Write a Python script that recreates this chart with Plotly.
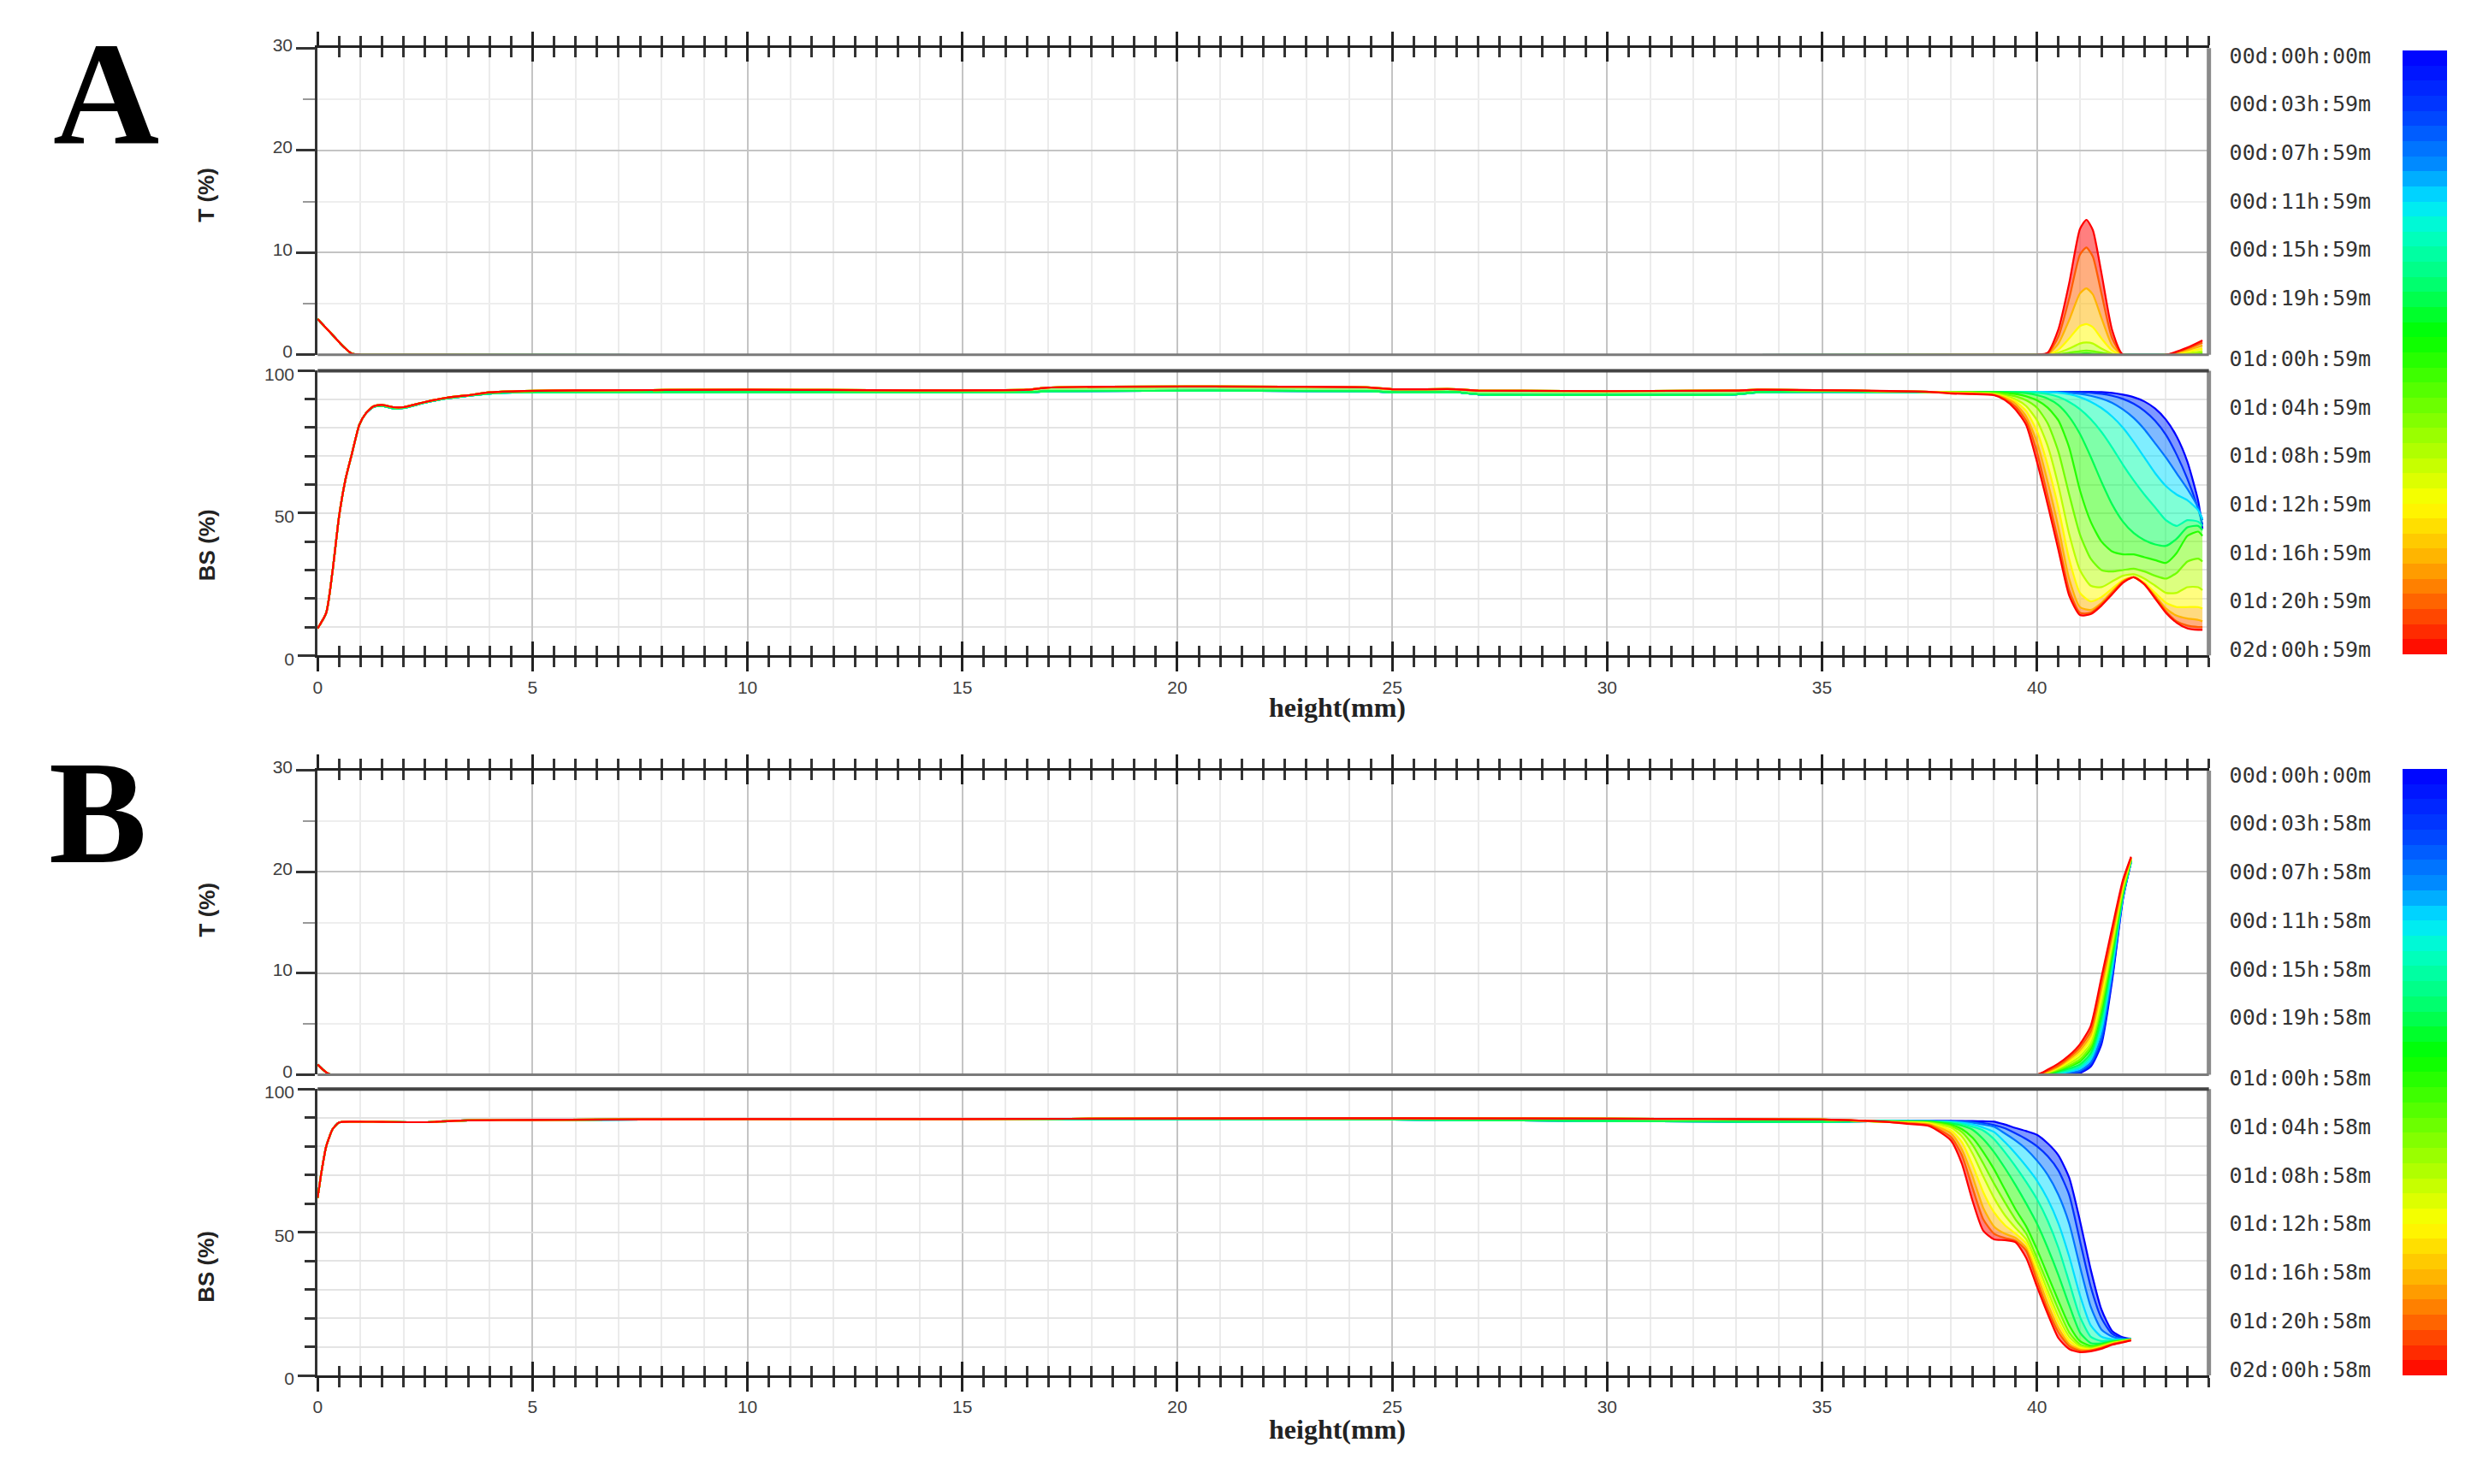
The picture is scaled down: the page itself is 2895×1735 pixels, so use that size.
import plotly.graph_objects as go
from plotly.colors import sample_colorscale

W, H = 2895, 1735

# ---------------------------------------------------------------- data
labels_A = ["00d:00h:00m", "00d:03h:59m", "00d:07h:59m", "00d:11h:59m", "00d:15h:59m",
            "00d:19h:59m", "01d:00h:59m", "01d:04h:59m", "01d:08h:59m", "01d:12h:59m",
            "01d:16h:59m", "01d:20h:59m", "02d:00h:59m"]
hours_A = [0, 3.98, 7.98, 11.98, 15.98, 19.98, 24.98, 28.98, 32.98, 36.98, 40.98, 44.98, 48.98]
labels_B = ["00d:00h:00m", "00d:03h:58m", "00d:07h:58m", "00d:11h:58m", "00d:15h:58m",
            "00d:19h:58m", "01d:00h:58m", "01d:04h:58m", "01d:08h:58m", "01d:12h:58m",
            "01d:16h:58m", "01d:20h:58m", "02d:00h:58m"]
hours_B = [0, 3.97, 7.97, 11.97, 15.97, 19.97, 24.97, 28.97, 32.97, 36.97, 40.97, 44.97, 48.97]

x_ticks = [0, 5, 10, 15, 20, 25, 30, 35, 40]

# ---- Panel A, backscattering
a_bs_base_x = [0, 0.2, 0.35, 0.5, 0.65, 0.8, 0.97, 1.12, 1.3, 1.5, 1.75, 2.0, 2.5, 3.0, 3.5,
               4.0, 4.8, 6.0, 10.0, 16.5, 17.0, 24.5, 25.0, 26.5, 27.0, 33.0, 33.5, 37.5]
a_bs_base_early = [9.5, 15, 30, 49, 62, 71, 81, 85, 87.3, 87.6, 86.8, 86.9, 88.8, 90.3, 91.2,
                   92.0, 92.4, 92.4, 92.4, 92.4, 92.8, 92.8, 92.4, 92.4, 91.7, 91.7, 92.4, 92.5]
a_bs_base_late = [9.5, 15, 30, 49, 62, 71, 81, 85, 87.5, 88.0, 87.2, 87.2, 89.0, 90.5, 91.4,
                  92.4, 92.9, 93.1, 93.3, 93.3, 94.1, 94.1, 93.5, 93.5, 93.0, 93.0, 93.3, 92.6]
a_bs_fan_x = [38.0, 38.5, 39.0, 39.25, 39.5, 39.75, 40.0, 40.25, 40.5, 40.75, 41.0, 41.25,
              41.5, 41.75, 42.0, 42.25, 42.5, 42.75, 43.0, 43.25, 43.5, 43.75, 43.85]
a_bs_fan = [
    [92.6, 92.6, 92.6, 92.6, 92.6, 92.6, 92.6, 92.6, 92.6, 92.6, 92.6, 92.6, 92.5, 92.2, 91.6, 90.7, 89.2, 86.7, 82.8, 76.9, 68.0, 54.3, 44.5],
    [92.6, 92.6, 92.6, 92.6, 92.6, 92.6, 92.6, 92.6, 92.6, 92.6, 92.5, 92.3, 91.9, 91.2, 90.1, 88.4, 85.9, 82.4, 77.5, 70.5, 62.0, 51.5, 46.0],
    [92.6, 92.6, 92.6, 92.6, 92.6, 92.6, 92.6, 92.6, 92.5, 92.3, 91.9, 91.2, 90.2, 88.7, 86.4, 83.4, 79.4, 74.5, 69.5, 64.0, 58.5, 52.0, 47.5],
    [92.6, 92.6, 92.6, 92.6, 92.6, 92.6, 92.6, 92.5, 92.3, 91.7, 90.7, 89.1, 86.9, 83.9, 80.0, 75.0, 69.5, 64.0, 59.5, 56.5, 54.5, 51.0, 48.0],
    [92.6, 92.6, 92.6, 92.6, 92.6, 92.5, 92.3, 91.8, 90.8, 89.0, 86.5, 83.0, 78.5, 73.0, 67.0, 61.5, 56.5, 52.0, 47.5, 45.5, 47.5, 47.0, 45.5],
    [92.6, 92.6, 92.6, 92.5, 92.4, 92.1, 91.4, 90.2, 87.9, 83.8, 77.8, 69.8, 61.0, 53.0, 47.0, 43.0, 40.5, 39.0, 38.5, 41.0, 45.0, 45.5, 44.0],
    [92.6, 92.5, 92.4, 92.2, 91.8, 91.0, 89.6, 87.0, 82.5, 73.0, 58.0, 47.0, 40.0, 36.5, 35.5, 35.5, 34.5, 33.5, 32.5, 36.0, 42.0, 43.5, 42.0],
    [92.5, 92.4, 92.1, 91.7, 91.0, 89.6, 87.0, 81.5, 71.5, 56.5, 42.5, 34.0, 30.0, 29.5, 30.0, 30.5, 29.5, 28.0, 27.0, 29.0, 33.0, 34.0, 33.0],
    [92.4, 92.2, 91.8, 91.2, 90.0, 87.6, 82.6, 73.6, 59.6, 42.6, 30.0, 24.5, 24.0, 26.0, 28.0, 28.5, 27.0, 24.5, 22.0, 22.0, 24.0, 24.0, 23.0],
    [92.3, 92.1, 91.7, 90.9, 89.2, 85.8, 78.8, 66.8, 51.8, 33.8, 22.0, 19.0, 20.5, 23.5, 26.5, 27.5, 25.5, 22.0, 18.5, 17.0, 17.0, 17.0, 16.5],
    [92.2, 92.0, 91.6, 90.5, 88.4, 83.9, 74.9, 60.9, 44.9, 26.9, 17.0, 16.0, 18.5, 22.5, 26.0, 27.5, 25.0, 21.0, 16.5, 14.0, 13.0, 12.5, 12.0],
    [92.1, 91.9, 91.5, 90.1, 87.4, 82.4, 71.4, 55.9, 39.9, 22.9, 15.0, 15.0, 18.0, 22.0, 26.0, 27.5, 25.0, 20.5, 15.5, 12.0, 10.5, 10.0, 10.0],
    [92.0, 91.8, 91.4, 89.7, 86.4, 80.9, 68.0, 53.0, 37.0, 21.0, 14.2, 14.5, 17.5, 21.5, 25.5, 27.5, 25.0, 20.0, 15.0, 11.5, 9.5, 9.0, 9.0],
]

# ---- Panel A, transmission
a_t_left_x = [0, 0.2, 0.4, 0.6, 0.8, 1.0]
a_t_left = [3.5, 2.6, 1.7, 0.8, 0.1, 0.0]
a_t_peak_x = [40.0, 40.25, 40.5, 40.75, 41.0, 41.15, 41.3, 41.5, 41.75, 42.0, 43.0, 43.5, 43.85]
a_t_peak = [
    [0, 0, 0, 0, 0, 0, 0, 0, 0, 0, 0, 0, 0],
    [0, 0, 0, 0, 0, 0, 0, 0, 0, 0, 0, 0, 0],
    [0, 0, 0, 0, 0, 0, 0, 0, 0, 0, 0, 0, 0],
    [0, 0, 0, 0, 0, 0, 0, 0, 0, 0, 0, 0, 0],
    [0, 0, 0, 0, 0, 0, 0, 0, 0, 0, 0, 0, 0],
    [0, 0, 0, 0, 0.05, 0.05, 0.05, 0, 0, 0, 0, 0, 0.05],
    [0, 0, 0, 0.05, 0.1, 0.15, 0.1, 0.05, 0, 0, 0, 0.05, 0.1],
    [0, 0, 0.05, 0.2, 0.35, 0.4, 0.35, 0.2, 0.05, 0, 0, 0.1, 0.2],
    [0, 0, 0.2, 0.6, 1.1, 1.2, 1.1, 0.6, 0.1, 0, 0, 0.15, 0.35],
    [0, 0, 0.5, 1.6, 2.8, 3.0, 2.7, 1.6, 0.4, 0, 0, 0.3, 0.6],
    [0, 0.05, 1.1, 3.4, 6.0, 6.5, 5.9, 3.6, 0.9, 0, 0, 0.45, 0.9],
    [0, 0.1, 1.8, 5.5, 9.8, 10.5, 9.6, 6.0, 1.6, 0, 0, 0.6, 1.2],
    [0, 0.2, 2.5, 7.0, 12.3, 13.2, 12.2, 8.0, 2.4, 0, 0, 0.7, 1.4],
]

# ---- Panel B, backscattering
b_bs_base_x = [0, 0.1, 0.2, 0.35, 0.5, 0.8, 1.5, 2.5, 3.5, 5, 10, 15, 20, 25, 30, 35, 36.5]
b_bs_base_early = [62, 72, 80, 86, 88.3, 88.6, 88.5, 88.4, 89.0, 89.2, 89.4, 89.4, 89.5, 89.3, 88.8, 88.5, 88.8]
b_bs_base_late = [62, 72, 80, 86, 88.3, 88.6, 88.5, 88.4, 89.0, 89.2, 89.5, 89.5, 89.7, 89.8, 89.6, 89.3, 88.5]
b_bs_fan_x = [37.0, 37.5, 38.0, 38.25, 38.5, 38.75, 39.0, 39.25, 39.5, 39.75, 40.0, 40.25,
              40.5, 40.75, 41.0, 41.25, 41.5, 41.75, 42.0, 42.19]
b_bs_fan = [
    [88.8, 88.8, 88.8, 88.8, 88.8, 88.7, 88.6, 87.6, 86.4, 85.3, 84.0, 81.0, 76.8, 69.0, 54.0, 37.0, 23.0, 15.5, 13.3, 12.8],
    [88.8, 88.8, 88.8, 88.7, 88.5, 88.1, 87.4, 86.3, 84.5, 82.5, 80.0, 76.5, 71.5, 63.0, 47.0, 31.0, 20.0, 14.5, 13.0, 12.7],
    [88.8, 88.8, 88.7, 88.5, 88.2, 87.6, 86.8, 84.5, 82.0, 79.0, 75.0, 70.0, 63.0, 53.0, 38.0, 24.0, 16.0, 13.5, 12.7, 12.7],
    [88.8, 88.7, 88.5, 88.2, 87.6, 86.5, 85.0, 81.5, 77.5, 73.0, 68.0, 61.5, 53.0, 41.5, 28.0, 17.5, 13.5, 12.6, 12.5, 12.7],
    [88.7, 88.7, 88.3, 87.8, 86.8, 85.5, 82.5, 78.0, 73.0, 67.5, 61.5, 54.0, 44.5, 32.5, 20.5, 13.5, 12.0, 12.2, 12.4, 12.7],
    [88.7, 88.6, 88.0, 87.2, 85.8, 82.5, 78.0, 72.5, 66.5, 60.0, 53.0, 44.5, 35.0, 24.5, 15.0, 11.3, 11.2, 11.9, 12.3, 12.6],
    [88.6, 88.5, 87.5, 86.0, 83.0, 78.0, 72.0, 65.0, 58.0, 52.0, 44.0, 35.0, 26.0, 17.5, 12.0, 10.3, 10.8, 11.7, 12.2, 12.6],
    [88.5, 88.3, 87.0, 85.0, 80.5, 74.0, 67.0, 60.5, 54.5, 49.5, 41.0, 32.0, 23.0, 15.0, 10.8, 9.8, 10.5, 11.5, 12.1, 12.5],
    [88.4, 88.1, 86.5, 83.5, 77.5, 69.5, 62.0, 56.0, 51.5, 47.5, 39.0, 29.5, 20.5, 13.5, 10.2, 9.4, 10.2, 11.3, 12.0, 12.5],
    [88.3, 87.9, 85.5, 81.5, 73.5, 64.0, 57.0, 52.5, 49.5, 46.0, 37.0, 27.5, 18.5, 12.2, 9.6, 9.1, 10.0, 11.1, 11.9, 12.4],
    [88.2, 87.6, 84.5, 79.0, 69.5, 58.5, 52.0, 49.5, 48.0, 44.5, 35.0, 25.0, 16.5, 11.0, 9.0, 8.9, 9.8, 11.0, 11.8, 12.4],
    [88.0, 87.3, 83.2, 77.0, 65.5, 54.5, 49.5, 48.0, 47.0, 43.5, 33.0, 23.0, 15.0, 10.2, 8.6, 8.7, 9.6, 10.9, 11.7, 12.3],
    [87.8, 87.0, 82.0, 74.0, 61.0, 50.5, 47.5, 47.2, 46.5, 41.0, 31.0, 21.5, 13.0, 9.2, 8.1, 8.4, 9.3, 10.7, 11.5, 12.2],
]

# ---- Panel B, transmission
b_t_left_x = [0, 0.15, 0.3]
b_t_left = [1.0, 0.4, 0.0]
b_t_rise_x = [40.0, 40.25, 40.5, 40.75, 41.0, 41.25, 41.5, 41.75, 42.0, 42.19]
b_t_rise = [
    [0, 0, 0, 0.05, 0.15, 0.8, 3.0, 9.3, 17.3, 21.0],
    [0, 0, 0, 0.1, 0.25, 1.0, 3.3, 9.6, 17.4, 21.0],
    [0, 0, 0.05, 0.2, 0.4, 1.2, 3.8, 10.0, 17.5, 21.0],
    [0, 0, 0.1, 0.3, 0.6, 1.5, 4.4, 10.5, 17.6, 21.0],
    [0, 0, 0.2, 0.45, 0.8, 1.8, 5.0, 11.0, 17.7, 21.1],
    [0, 0.05, 0.3, 0.6, 1.0, 2.1, 5.6, 11.5, 17.8, 21.1],
    [0, 0.1, 0.4, 0.8, 1.3, 2.5, 6.3, 12.0, 18.0, 21.2],
    [0, 0.15, 0.5, 0.9, 1.5, 2.8, 6.7, 12.4, 18.2, 21.2],
    [0, 0.2, 0.6, 1.1, 1.8, 3.1, 7.2, 12.8, 18.4, 21.3],
    [0, 0.25, 0.7, 1.3, 2.1, 3.5, 7.8, 13.2, 18.6, 21.3],
    [0, 0.3, 0.8, 1.5, 2.4, 3.9, 8.4, 13.6, 18.8, 21.4],
    [0, 0.4, 0.9, 1.7, 2.7, 4.3, 9.0, 14.0, 19.0, 21.4],
    [0, 0.5, 1.1, 1.9, 3.0, 4.8, 9.6, 14.5, 19.2, 21.5],
]

# ---------------------------------------------------------------- style
JET = [[0.0, 'rgb(0,0,255)'], [0.1, 'rgb(0,60,255)'], [0.19, 'rgb(0,140,255)'],
       [0.25, 'rgb(0,230,255)'], [0.3, 'rgb(0,255,200)'], [0.38, 'rgb(0,255,120)'],
       [0.47, 'rgb(0,255,0)'], [0.6, 'rgb(120,255,0)'], [0.75, 'rgb(255,255,0)'],
       [0.85, 'rgb(255,170,0)'], [0.93, 'rgb(255,80,0)'], [1.0, 'rgb(255,0,0)']]
N_BANDS = 40
band_cols = sample_colorscale(JET, [1 - (i + 0.5) / N_BANDS for i in range(N_BANDS)])
CB_SCALE = []
for i, c in enumerate(band_cols):
    CB_SCALE.append([i / N_BANDS, c])
    CB_SCALE.append([(i + 1) / N_BANDS, c])

SANS = "Liberation Sans, Arial, sans-serif"
SERIF = "Liberation Serif, Times New Roman, serif"
MONO = "DejaVu Sans Mono, monospace"
TICKFONT = dict(family=SANS, size=21, color="#404040")
FILL_ALPHA = 0.5

X_DOM = [366 / W, 2581 / W]
def ydom(top_px, bot_px):
    return [1 - bot_px / H, 1 - top_px / H]

AT_DOM = ydom(41, 406)
ABS_DOM = ydom(425, 764)
BT_DOM = ydom(901, 1263)
BBS_DOM = ydom(1280, 1621)

fig = go.Figure()

def add_lines(xs, ys, hours, xa, ya):
    for i, (x, y, h) in enumerate(zip(xs, ys, hours)):
        col = sample_colorscale(JET, [h / hours[-1]])[0]
        fcol = col.replace("rgb(", "rgba(").replace(")", f", {FILL_ALPHA})")
        fig.add_trace(go.Scatter(x=x, y=y, mode="lines", xaxis=xa, yaxis=ya,
                                 fill="tonexty" if i > 0 else "none", fillcolor=fcol,
                                 line=dict(color=col, width=2.2, shape="spline", smoothing=0.6),
                                 hoverinfo="skip", showlegend=False))

# A transmission
add_lines([a_t_left_x + a_t_peak_x] * len(a_t_peak),
          [a_t_left + p for p in a_t_peak], hours_A, "x", "y")
# A backscattering
add_lines([a_bs_base_x + a_bs_fan_x] * len(a_bs_fan),
          [(a_bs_base_early if h < 24 else a_bs_base_late) + p for h, p in zip(hours_A, a_bs_fan)],
          hours_A, "x2", "y2")
# B transmission
add_lines([b_t_left_x + b_t_rise_x] * len(b_t_rise),
          [b_t_left + p for p in b_t_rise], hours_B, "x7", "y3")
# B backscattering
add_lines([b_bs_base_x + b_bs_fan_x] * len(b_bs_fan),
          [(b_bs_base_early if h < 24 else b_bs_base_late) + p for h, p in zip(hours_B, b_bs_fan)],
          hours_B, "x8", "y4")

# dummy traces so the overlay tick axes exist
for xa, ya in [("x3", "y"), ("x4", "y"), ("x5", "y2"), ("x6", "y2"),
               ("x9", "y3"), ("x10", "y3"), ("x11", "y4"), ("x12", "y4")]:
    fig.add_trace(go.Scatter(x=[None], y=[None], xaxis=xa, yaxis=ya, mode="lines",
                             hoverinfo="skip", showlegend=False))

# colour bars (+ label axes)
for xa, ya, hrs, top, bot in [("x13", "y5", hours_A, 44, 763), ("x14", "y6", hours_B, 899, 1621)]:
    fig.add_trace(go.Scatter(
        x=[0.5, 0.5], y=[-100, -100], xaxis=xa, yaxis=ya, mode="markers", hoverinfo="skip",
        showlegend=False,
        marker=dict(color=[0, 1], cmin=0, cmax=1, colorscale=CB_SCALE, opacity=0, showscale=True,
                    colorbar=dict(x=2808 / W, xanchor="left", xref="paper", xpad=0, ypad=0,
                                  y=1 - (top + bot) / 2 / H, yanchor="middle", yref="paper",
                                  len=(bot - top) / H, lenmode="fraction",
                                  thickness=52, thicknessmode="pixels", outlinewidth=0,
                                  showticklabels=False, ticks=""))))

grid_x = dict(range=[0, 44], domain=X_DOM, showgrid=True, dtick=5, gridcolor="#c4c4c4",
              gridwidth=2, ticks="", showticklabels=False, showline=False, zeroline=False,
              minor=dict(dtick=1, showgrid=True, gridcolor="#ebebeb", gridwidth=2, ticks=""))

def tick_axis(over, anchor, side, direction, labels):
    return dict(range=[0, 44], domain=X_DOM, overlaying=over, anchor=anchor, side=side,
                showgrid=False, zeroline=False, tickmode="array", tickvals=x_ticks,
                ticktext=[str(v) for v in x_ticks],
                ticks=direction, ticklen=16, tickwidth=3, tickcolor="#222",
                showticklabels=labels, tickfont=TICKFONT,
                showline=(direction == "outside"), linecolor="#222", linewidth=3,
                minor=dict(ticks=direction, dtick=0.5, tick0=0, ticklen=11, tickwidth=2.5,
                           tickcolor="#333", showgrid=False))

t_axis = dict(range=[0, 30], showgrid=True, dtick=10, gridcolor="#c4c4c4", gridwidth=2,
              ticks="outside", ticklen=22, tickwidth=3, tickcolor="#333", tickfont=TICKFONT,
              showline=True, linecolor="#333", linewidth=3, zeroline=False, ticklabelshift=-4,
              minor=dict(dtick=5, ticks="outside", ticklen=14, tickwidth=2, tickcolor="#999",
                         showgrid=True, gridcolor="#eeeeee", gridwidth=2))
bs_axis = dict(range=[0, 100], tickmode="array", tickvals=[0, 50, 100],
               ticktext=["0", "50", "100"], showgrid=True, gridcolor="#e0e0e0", gridwidth=2,
               ticks="outside", ticklen=20, tickwidth=3, tickcolor="#333", tickfont=TICKFONT,
               showline=True, linecolor="#333", linewidth=3, zeroline=False, ticklabelshift=4,
               minor=dict(dtick=10, tick0=0, ticks="outside", ticklen=12, tickwidth=3,
                          tickcolor="#333", showgrid=True, gridcolor="#e4e4e4", gridwidth=2))

lab_axis = lambda dom, rng, hrs, labs: dict(
    domain=dom, range=rng, side="right", tickmode="array", tickvals=hrs, ticktext=labs,
    ticks="", showgrid=False, zeroline=False, showline=False,
    tickfont=dict(family=MONO, size=25, color="#333"))

LAB_X = [2594 / W, 2604 / W]

fig.update_layout(
    width=W, height=H, margin=dict(l=0, r=0, t=0, b=0),
    paper_bgcolor="white", plot_bgcolor="white", showlegend=False,
    xaxis=dict(grid_x, anchor="y"),
    xaxis2=dict(grid_x, anchor="y2"),
    xaxis3=tick_axis("x", "y", "top", "outside", False),
    xaxis4=tick_axis("x", "y", "top", "inside", False),
    xaxis5=tick_axis("x2", "y2", "bottom", "outside", True),
    xaxis6=tick_axis("x2", "y2", "bottom", "inside", False),
    xaxis7=dict(grid_x, anchor="y3"),
    xaxis8=dict(grid_x, anchor="y4"),
    xaxis9=tick_axis("x7", "y3", "top", "outside", False),
    xaxis10=tick_axis("x7", "y3", "top", "inside", False),
    xaxis11=tick_axis("x8", "y4", "bottom", "outside", True),
    xaxis12=tick_axis("x8", "y4", "bottom", "inside", False),
    xaxis13=dict(domain=LAB_X, range=[0, 1], visible=False, anchor="y5"),
    xaxis14=dict(domain=LAB_X, range=[0, 1], visible=False, anchor="y6"),
    yaxis=dict(t_axis, domain=AT_DOM, anchor="x"),
    yaxis2=dict(bs_axis, domain=ABS_DOM, anchor="x2"),
    yaxis3=dict(t_axis, domain=BT_DOM, anchor="x7"),
    yaxis4=dict(bs_axis, domain=BBS_DOM, anchor="x8"),
    yaxis5=dict(lab_axis(ydom(44, 763), [49.40, -0.42], hours_A, labels_A), anchor="x13"),
    yaxis6=dict(lab_axis(ydom(899, 1621), [49.48, -0.52], hours_B, labels_B), anchor="x14"),
)

# frame lines
shapes = []
for xr, yr in [("x", "y"), ("x2", "y2"), ("x7", "y3"), ("x8", "y4")]:
    shapes.append(dict(type="line", xref=f"{xr} domain", yref=f"{yr} domain",
                       x0=1, x1=1, y0=0, y1=1, line=dict(color="#8a8a8a", width=5)))
for xr, yr in [("x", "y"), ("x7", "y3")]:
    shapes.append(dict(type="line", xref=f"{xr} domain", yref=f"{yr} domain",
                       x0=0, x1=1, y0=0, y1=0, line=dict(color="#7a7a7a", width=3)))
for xr, yr in [("x2", "y2"), ("x8", "y4")]:
    shapes.append(dict(type="line", xref=f"{xr} domain", yref=f"{yr} domain",
                       x0=0, x1=1, y0=1, y1=1, line=dict(color="#444", width=4)))
fig.update_layout(shapes=shapes)

ann = []
for txt, xc, yc in [("A", 118, 96), ("B", 109, 951)]:
    ann.append(dict(text=f"<b>{txt}</b>", x=xc / W, y=1 - yc / H, xref="paper", yref="paper",
                    showarrow=False, xanchor="center", yanchor="middle",
                    font=dict(family=SERIF, size=172, color="black")))
for txt, yc in [("T (%)", 216), ("BS (%)", 633), ("T (%)", 1067), ("BS (%)", 1492)]:
    ann.append(dict(text=f"<b>{txt}</b>", x=236 / W, y=1 - yc / H, xref="paper", yref="paper",
                    showarrow=False, textangle=-90, xanchor="center", yanchor="middle",
                    font=dict(family=SANS, size=26, color="#222")))
for yc in [826, 1685]:
    ann.append(dict(text="<b>height(mm)</b>", x=1560 / W, y=1 - yc / H, xref="paper",
                    yref="paper", showarrow=False, xanchor="center", yanchor="middle",
                    font=dict(family=SERIF, size=32, color="#222")))
fig.update_layout(annotations=ann)

fig.write_html("out.html", config={"displayModeBar": False},
               post_script="document.body.style.margin='0px';")
